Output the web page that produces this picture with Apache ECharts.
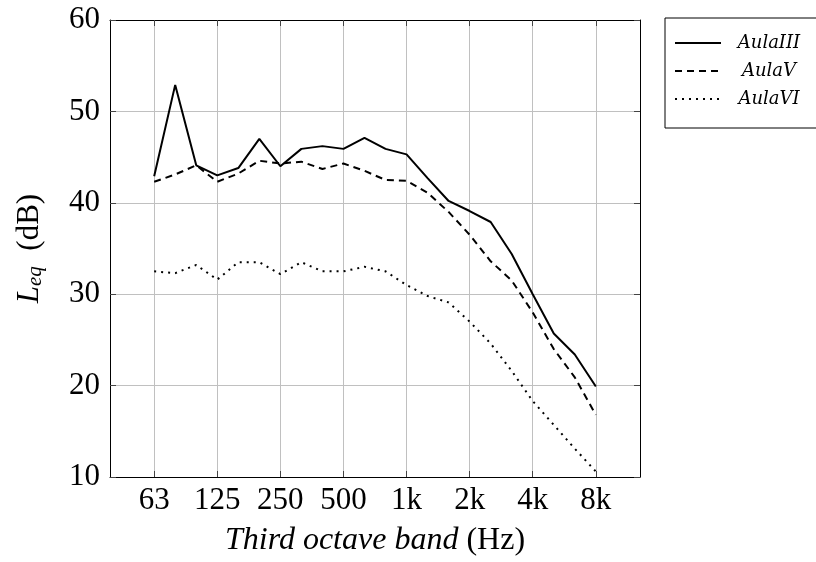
<!DOCTYPE html>
<html style="height: 100%">
<head>
    <meta charset="utf-8">
</head>
<body style="height: 100%; margin: 0; background: #fff">
<div id="leq_container" style="height: 562px; width: 816px"></div>
<script src="https://cdn.jsdelivr.net/npm/echarts@6/dist/echarts.min.js"></script>
<script type="text/javascript">
    // third octave bands (x position = index in this list)
    var bands = ['63', '80', '100', '125', '160', '200', '250', '315', '400', '500', '630', '800',
        '1k', '1.25k', '1.6k', '2k', '2.5k', '3.15k', '4k', '5k', '6.3k', '8k'];
    var tickBands = ['63', '125', '250', '500', '1k', '2k', '4k', '8k'];
    var yTicks = [10, 20, 30, 40, 50, 60];

    var aulaIII = [42.9, 52.9, 44.1, 43.0, 43.8, 47.0, 44.0, 45.9, 46.2, 45.9, 47.1, 45.9,
        45.3, 42.7, 40.2, 39.1, 37.9, 34.4, 30.0, 25.7, 23.4, 19.9];
    var aulaV = [42.3, 43.1, 44.1, 42.3, 43.2, 44.6, 44.3, 44.5, 43.7, 44.3, 43.5, 42.5,
        42.4, 41.1, 39.0, 36.5, 33.6, 31.5, 28.0, 24.0, 20.9, 16.8];
    var aulaVI = [32.5, 32.3, 33.2, 31.6, 33.5, 33.5, 32.2, 33.5, 32.5, 32.5, 33.0, 32.5,
        31.0, 29.8, 29.1, 27.0, 24.6, 21.6, 18.3, 15.7, 13.1, 10.6];

    var font = 'Liberation Serif';
    var tickIdx = tickBands.map(function (b) { return bands.indexOf(b); });

    function pairs(vals) {
        return vals.map(function (v, i) { return [i, v]; });
    }

    var chart = echarts.init(document.getElementById('leq_container'));

    var tickStyle = { show: true, inside: true, length: 6, lineStyle: { color: '#444' } };
    var frameLine = { show: true, onZero: false, lineStyle: { color: '#000', width: 1 } };

    var option = {
        backgroundColor: '#fff',
        animation: false,
        grid: { left: 110, right: 176, top: 20, bottom: 85 },
        legend: {
            left: 665, top: 18,
            orient: 'vertical',
            borderColor: '#000', borderWidth: 1, borderRadius: 0,
            padding: [16, 40, 20, 9],
            itemWidth: 46, itemHeight: 14, itemGap: 10,
            itemStyle: { opacity: 0 },
            data: ['AulaIII', 'AulaV', 'AulaVI'],
            formatter: function (n) { return '{c|' + n + '}'; },
            textStyle: {
                rich: { c: { width: 86, align: 'center', lineHeight: 14, fontFamily: 'DejaVu Serif', fontStyle: 'italic', fontSize: 18, color: '#000' } }
            }
        },
        xAxis: [{
            type: 'value', min: -2.1, max: 23.1,
            name: '{i|Third octave band}{n| (Hz)}',
            nameLocation: 'middle', nameGap: 48,
            nameTextStyle: {
                rich: {
                    i: { fontFamily: font, fontStyle: 'italic', fontSize: 32, color: '#000' },
                    n: { fontFamily: font, fontSize: 32, color: '#000' }
                }
            },
            axisLine: frameLine,
            axisTick: Object.assign({ customValues: tickIdx }, tickStyle),
            axisLabel: {
                customValues: tickIdx, margin: 8,
                fontFamily: font, fontSize: 31, color: '#000',
                formatter: function (v) { return bands[v]; }
            },
            splitLine: { show: true, lineStyle: { color: '#c0c0c0', width: 1 } }
        }, {
            type: 'value', min: -2.1, max: 23.1, position: 'top',
            axisLine: frameLine,
            axisTick: Object.assign({ customValues: tickIdx }, tickStyle),
            axisLabel: { show: false },
            splitLine: { show: false }
        }],
        yAxis: [{
            type: 'value', min: 10, max: 60, interval: 10,
            name: '{i|L}{s|eq}{n|  (dB)}',
            nameLocation: 'middle', nameGap: 64, nameRotate: 90,
            nameTextStyle: {
                rich: {
                    i: { fontFamily: font, fontStyle: 'italic', fontSize: 31, color: '#000' },
                    s: { fontFamily: font, fontStyle: 'italic', fontSize: 21, color: '#000', verticalAlign: 'bottom', padding: [12, 0, 0, 0] },
                    n: { fontFamily: font, fontSize: 31, color: '#000' }
                }
            },
            axisLine: frameLine,
            axisTick: tickStyle,
            axisLabel: { margin: 10, fontFamily: font, fontSize: 31, color: '#000' },
            splitLine: { show: true, lineStyle: { color: '#c0c0c0', width: 1 } }
        }, {
            type: 'value', min: 10, max: 60, interval: 10, position: 'right',
            axisLine: frameLine,
            axisTick: tickStyle,
            axisLabel: { show: false },
            splitLine: { show: false }
        }],
        series: [{
            name: 'AulaIII', type: 'line', showSymbol: false, symbol: 'none',
            lineStyle: { color: '#000', width: 2 },
            itemStyle: { color: '#000' },
            data: pairs(aulaIII)
        }, {
            name: 'AulaV', type: 'line', showSymbol: false, symbol: 'none',
            lineStyle: { color: '#000', width: 2, type: [7, 5] },
            itemStyle: { color: '#000' },
            data: pairs(aulaV)
        }, {
            name: 'AulaVI', type: 'line', showSymbol: false, symbol: 'none',
            lineStyle: { color: '#000', width: 2, type: [2, 5] },
            itemStyle: { color: '#000' },
            data: pairs(aulaVI)
        }]
    };

    chart.setOption(option, true);
</script>
</body>
</html>
